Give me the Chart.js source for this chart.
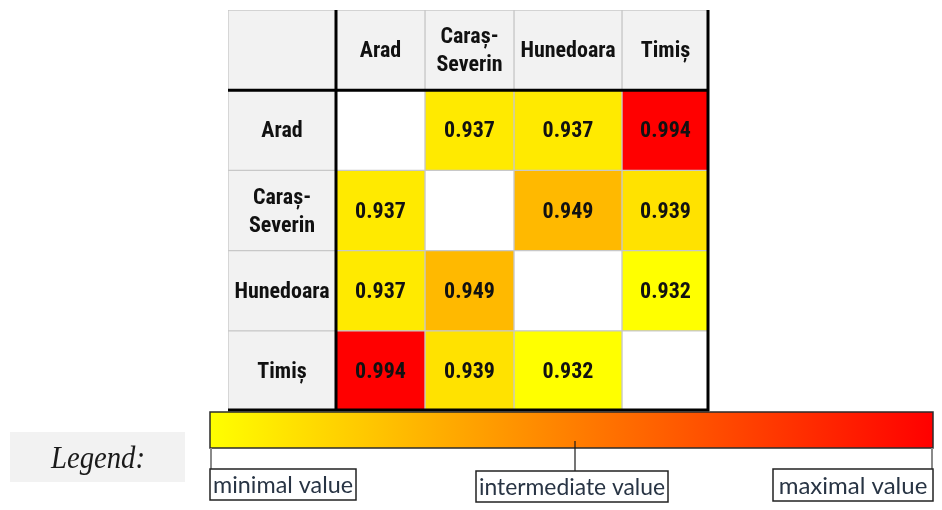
<!DOCTYPE html>
<html>
<head>
<meta charset="utf-8">
<script src="https://cdn.jsdelivr.net/npm/chart.js@4"></script>
<style>
  html, body { margin: 0; padding: 0; background: #fff; }
  #wrap { width: 942px; height: 510px; }
</style>
</head>
<body>
<div id="wrap"><canvas id="heatmap" width="942" height="510"></canvas></div>
<script>
// Data
const counties = ['Arad', 'Caraș-Severin', 'Hunedoara', 'Timiș'];
const countyLines = [['Arad'], ['Caraș-', 'Severin'], ['Hunedoara'], ['Timiș']];
const aradRow = [null, 0.937, 0.937, 0.994];
const carasRow = [0.937, null, 0.949, 0.939];
const hunedoaraRow = [0.937, 0.949, null, 0.932];
const timisRow = [0.994, 0.939, 0.932, null];
const legendTitle = 'Legend:';
const legendLabels = ['minimal value', 'intermediate value', 'maximal value'];

// Layout: relative widths of the table columns (header column first)
const COL_WIDTHS = [108, 89, 89, 108, 87];
const colEdges = [0];
COL_WIDTHS.forEach(w => colEdges.push(colEdges[colEdges.length - 1] + w));

const matrix = [aradRow, carasRow, hunedoaraRow, timisRow];
const allValues = matrix.flat().filter(v => v !== null);
const vMin = Math.min(...allValues);
const vMax = Math.max(...allValues);

// yellow (min) -> red (max)
function heatColor(v) {
    const t = (v - vMin) / (vMax - vMin);
    const g = Math.round(255 * (1 - t));
    return 'rgb(255,' + g + ',0)';
}

const rowLabels = [''].concat(counties);

// one dataset per table column, one floating bar per row
const datasets = COL_WIDTHS.map((w, c) => ({
    label: c === 0 ? 'header' : counties[c - 1],
    data: rowLabels.map(() => [colEdges[c], colEdges[c + 1]]),
    backgroundColor: rowLabels.map((_, r) => {
        if (r === 0 || c === 0) return '#F2F2F2';
        const v = matrix[r - 1][c - 1];
        return v === null ? '#FFFFFF' : heatColor(v);
    }),
    borderColor: '#C8C8C8',
    borderWidth: 1,
    borderSkipped: false,
    grouped: false,
    barPercentage: 1,
    categoryPercentage: 1
}));

const CELL_FONT = 'bold 22px "Liberation Sans Narrow", "Roboto Condensed", "DejaVu Sans Condensed", sans-serif';

const tablePlugin = {
    id: 'tableText',
    afterDatasetsDraw(chart) {
        const { ctx, chartArea, scales: { x, y } } = chart;
        ctx.save();
        ctx.textAlign = 'center';
        ctx.textBaseline = 'middle';
        ctx.fillStyle = '#111111';
        ctx.font = CELL_FONT;
        chart.data.datasets.forEach((ds, c) => {
            chart.getDatasetMeta(c).data.forEach((bar, r) => {
                const p = bar.getProps(['x', 'y', 'base'], true);
                const cx = (p.x + p.base) / 2;
                const cy = p.y;
                let lines = [];
                if (r === 0 && c > 0) lines = countyLines[c - 1];
                else if (c === 0 && r > 0) lines = countyLines[r - 1];
                else if (r > 0 && c > 0 && matrix[r - 1][c - 1] !== null) lines = [matrix[r - 1][c - 1].toFixed(3)];
                const lh = 28;
                lines.forEach((t, i) => {
                    ctx.fillText(t, cx, cy + (i - (lines.length - 1) / 2) * lh + 1.5);
                });
            });
        });

        // thick black separators and right/bottom border
        const sepX = x.getPixelForValue(colEdges[1]);
        const sepY = (y.getPixelForValue(0) + y.getPixelForValue(1)) / 2;
        ctx.strokeStyle = '#000000';
        ctx.lineWidth = 3;
        ctx.beginPath();
        ctx.moveTo(sepX, chartArea.top);
        ctx.lineTo(sepX, chartArea.bottom);
        ctx.moveTo(chartArea.left, sepY);
        ctx.lineTo(chartArea.right, sepY);
        ctx.moveTo(chartArea.right - 1, chartArea.top);
        ctx.lineTo(chartArea.right - 1, chartArea.bottom);
        ctx.moveTo(chartArea.left, chartArea.bottom - 1);
        ctx.lineTo(chartArea.right, chartArea.bottom - 1);
        ctx.stroke();
        ctx.restore();
    },
    afterDraw(chart) {
        const { ctx } = chart;
        ctx.save();

        // "Legend:" caption
        ctx.fillStyle = '#F2F2F2';
        ctx.fillRect(10, 432, 175, 50);
        ctx.fillStyle = '#1a1a1a';
        ctx.font = 'italic 31px "Liberation Serif", "DejaVu Serif", serif';
        ctx.textAlign = 'center';
        ctx.textBaseline = 'middle';
        ctx.fillText(legendTitle, 98, 460, 94);

        // colour ramp
        const gx0 = 210, gx1 = 933, gy0 = 412, gy1 = 448;
        const grad = ctx.createLinearGradient(gx0, 0, gx1, 0);
        grad.addColorStop(0, heatColor(vMin));
        grad.addColorStop(0.5, heatColor((vMin + vMax) / 2));
        grad.addColorStop(1, heatColor(vMax));
        ctx.fillStyle = grad;
        ctx.fillRect(gx0, gy0, gx1 - gx0, gy1 - gy0);
        ctx.strokeStyle = '#2b2b2b';
        ctx.lineWidth = 1.5;
        ctx.strokeRect(gx0, gy0, gx1 - gx0, gy1 - gy0);

        // ticks
        ctx.strokeStyle = '#8a8a8a';
        ctx.lineWidth = 2;
        ctx.beginPath();
        ctx.moveTo(211, gy1); ctx.lineTo(211, 469);
        ctx.moveTo(932, gy1); ctx.lineTo(932, 469);
        ctx.stroke();
        ctx.strokeStyle = '#1a1a1a';
        ctx.lineWidth = 1.2;
        ctx.beginPath();
        ctx.moveTo(575, 441); ctx.lineTo(575, 471);
        ctx.stroke();

        // label boxes
        const boxes = [[210, 469, 146, 31], [476, 471, 192, 31], [773, 469, 160, 32]];
        ctx.font = '24px Lato, "Open Sans", sans-serif';
        boxes.forEach((b, i) => {
            ctx.fillStyle = '#FFFFFF';
            ctx.fillRect(b[0], b[1], b[2], b[3]);
            ctx.strokeStyle = '#222222';
            ctx.lineWidth = 1.5;
            ctx.strokeRect(b[0], b[1], b[2], b[3]);
            ctx.fillStyle = '#283444';
            ctx.fillText(legendLabels[i], b[0] + b[2] / 2, b[1] + b[3] / 2 + 1, b[2] - 6);
        });
        ctx.restore();
    }
};

new Chart(document.getElementById('heatmap'), {
    type: 'bar',
    data: { labels: rowLabels, datasets: datasets },
    options: {
        indexAxis: 'y',
        responsive: false,
        animation: false,
        events: [],
        layout: { padding: { left: 228, right: 233, top: 10, bottom: 99 } },
        plugins: {
            legend: { display: false },
            tooltip: { enabled: false }
        },
        scales: {
            x: { type: 'linear', min: 0, max: colEdges[colEdges.length - 1], display: false },
            y: { type: 'category', display: false, offset: true }
        }
    },
    plugins: [tablePlugin]
});
</script>
</body>
</html>
